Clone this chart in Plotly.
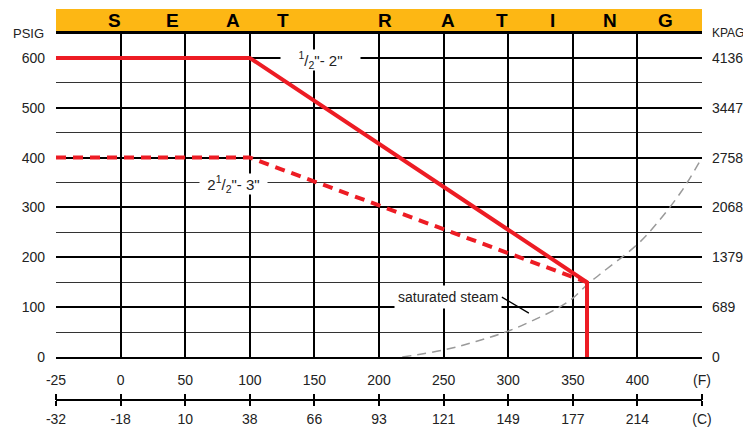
import plotly.graph_objects as go

# ---------------- data ----------------
temp_f_ticks = [-25, 0, 50, 100, 150, 200, 250, 300, 350, 400, 450]
temp_f_labels = ["-25", "0", "50", "100", "150", "200", "250", "300", "350", "400", "(F)"]
temp_c_labels = ["-32", "-18", "10", "38", "66", "93", "121", "149", "177", "214", "(C)"]
grid_f = [0, 50, 100, 150, 200, 250, 300, 350, 400]
psig_ticks = [0, 100, 200, 300, 400, 500, 600]
psig_minor = [50, 150, 250, 350, 450, 550]
kpag_labels = ["0", "689", "1379", "2068", "2758", "3447", "4136"]

small_temp = [-25, 100, 361, 361]
small_psig = [600, 600, 150, 0]
large_temp = [-25, 100, 361]
large_psig = [400, 400, 150]

steam_temp = [218, 250, 275, 300, 323, 339, 350, 361, 371, 400, 415, 434, 450]
steam_psig = [0, 14, 31, 52, 78, 99, 118, 145, 166, 226, 268, 332, 400]

banner_letters = ["S", "E", "A", "T", "R", "A", "T", "I", "N", "G"]


# The chart's first column (-25..0 F) is drawn as wide as the 50-degree columns,
# so temperatures below zero are stretched 2x onto the axis.
def to_axis(temps):
    return [t if t is None or t >= 0 else 2 * t for t in temps]


# ---------------- layout constants ----------------
# the page body has an 8px margin, so the figure is sized/offset to compensate
PAGE_OFF = 8
W, H = 751 - PAGE_OFF, 427 - PAGE_OFF
L, R, T, B = 56 - PAGE_OFF, 49, 33 - PAGE_OFF, 27
plot_h = H - T - B             # 367
main_bottom_px = 357 - PAGE_OFF
y_dom0 = (H - B - main_bottom_px) / plot_h
banner_px = 24
banner_x = [0.0913, 0.18, 0.274, 0.351, 0.51, 0.607, 0.69, 0.769, 0.858, 0.943]

FONT = "Liberation Sans, Arial, sans-serif"
TICK = dict(family=FONT, size=14, color="#222")
RED = "#ED1C24"

fig = go.Figure()

fig.add_trace(go.Scatter(
    x=to_axis(steam_temp), y=steam_psig, mode="lines", line_shape="spline",
    line=dict(color="#9a9a9a", width=1.5, dash="9px,6px"),
    hoverinfo="skip", showlegend=False))
fig.add_trace(go.Scatter(
    x=to_axis(large_temp), y=large_psig, mode="lines",
    line=dict(color=RED, width=4, dash="10px,7px"),
    hoverinfo="skip", showlegend=False))
fig.add_trace(go.Scatter(
    x=to_axis(small_temp), y=small_psig, mode="lines",
    line=dict(color=RED, width=4),
    hoverinfo="skip", showlegend=False))
# dummy traces so auxiliary axes are drawn
fig.add_trace(go.Scatter(x=[None], y=[None], xaxis="x2", yaxis="y", showlegend=False))
fig.add_trace(go.Scatter(x=[None], y=[None], xaxis="x3", yaxis="y", showlegend=False))
fig.add_trace(go.Scatter(x=[None], y=[None], xaxis="x", yaxis="y2", showlegend=False))

xr = [to_axis([-25])[0], 450]
yr = [0, 650]
tick_pos = to_axis(temp_f_ticks)

fig.update_layout(
    width=W, height=H,
    margin=dict(l=L, r=R, t=T, b=B, autoexpand=False),
    paper_bgcolor="white", plot_bgcolor="white",
    font=dict(family=FONT, size=14, color="#222"),
    showlegend=False,
    xaxis=dict(
        range=xr, domain=[0, 1], anchor="y", automargin=False,
        tickvals=to_axis(grid_f), showticklabels=False, ticks="",
        showgrid=True, gridcolor="black", gridwidth=1.6,
        showline=True, linecolor="black", linewidth=2.2, mirror=True,
        zeroline=False, fixedrange=True),
    xaxis2=dict(
        range=xr, overlaying="x", anchor="free", position=0, side="bottom",
        automargin=False,
        tickvals=tick_pos, ticktext=temp_c_labels,
        ticks="outside", ticklen=5, tickwidth=1.5, tickcolor="black",
        showline=True, linecolor="black", linewidth=1.5,
        showgrid=False, zeroline=False, ticklabelstandoff=1,
        tickfont=TICK),
    xaxis3=dict(
        range=xr, overlaying="x", anchor="free", position=0, side="top",
        automargin=False,
        tickvals=tick_pos, ticktext=temp_f_labels,
        ticks="outside", ticklen=6, tickwidth=1.5, tickcolor="black",
        showline=False, showgrid=False, zeroline=False, ticklabelstandoff=3,
        tickfont=TICK),
    yaxis=dict(
        range=yr, domain=[y_dom0, 1], anchor="x", automargin=False,
        tickvals=psig_ticks, ticks="",
        showgrid=True, gridcolor="black", gridwidth=2,
        minor=dict(tickvals=psig_minor, showgrid=True, gridcolor="#333", gridwidth=1.4, ticks=""),
        showline=False, zeroline=False, ticklabelstandoff=10,
        tickfont=TICK),
    yaxis2=dict(
        range=yr, overlaying="y", side="right", anchor="x", automargin=False,
        tickvals=psig_ticks, ticktext=kpag_labels, ticks="",
        showgrid=False, showline=False, zeroline=False, ticklabelstandoff=9,
        tickfont=TICK),
)

# banner
top_frac = 1 + banner_px / plot_h
fig.add_shape(type="rect", xref="paper", yref="paper",
              x0=0, x1=1, y0=1, y1=top_frac,
              fillcolor="#FDB714", line=dict(width=0), layer="below")
fig.add_shape(type="line", xref="paper", yref="paper",
              x0=0, x1=1, y0=1, y1=1, line=dict(color="black", width=2.2))
for letter, bx in zip(banner_letters, banner_x):
    fig.add_annotation(text=letter, xref="paper", yref="paper",
                       x=bx, y=1 + (banner_px / 2) / plot_h,
                       xanchor="center", yanchor="middle", showarrow=False,
                       font=dict(family=FONT, size=19, color="black", weight="bold"))

# axis titles
fig.add_annotation(text="PSIG", xref="paper", yref="paper", x=-0.0433, y=1,
                   xanchor="center", yanchor="middle", showarrow=False,
                   font=dict(family=FONT, size=13, color="#222"))
fig.add_annotation(text="KPAG", xref="paper", yref="paper", x=1.012, y=1,
                   xanchor="left", yanchor="middle", showarrow=False,
                   font=dict(family=FONT, size=12, color="#222"))

# series labels
fig.add_annotation(text="<sup>1</sup>/<sub>2</sub>\"- 2\"", x=155, y=600,
                   xref="x", yref="y", showarrow=False, bgcolor="white",
                   width=79, height=20, borderpad=0, yshift=-2,
                   font=dict(family=FONT, size=15, color="#222"))
fig.add_annotation(text="2<sup>1</sup>/<sub>2</sub>\"- 3\"", x=87, y=350,
                   xref="x", yref="y", showarrow=False, bgcolor="white",
                   width=67, height=20, borderpad=0, yshift=-1,
                   font=dict(family=FONT, size=15, color="#222"))
fig.add_annotation(text="saturated steam", x=316, y=88, xref="x", yref="y",
                   showarrow=True, arrowhead=0, arrowwidth=1.2, arrowcolor="black",
                   ax=-27, ay=-16, xanchor="right", yanchor="middle",
                   bgcolor="white", borderpad=3,
                   font=dict(family=FONT, size=14, color="#222"))

fig.write_html("out.html")
